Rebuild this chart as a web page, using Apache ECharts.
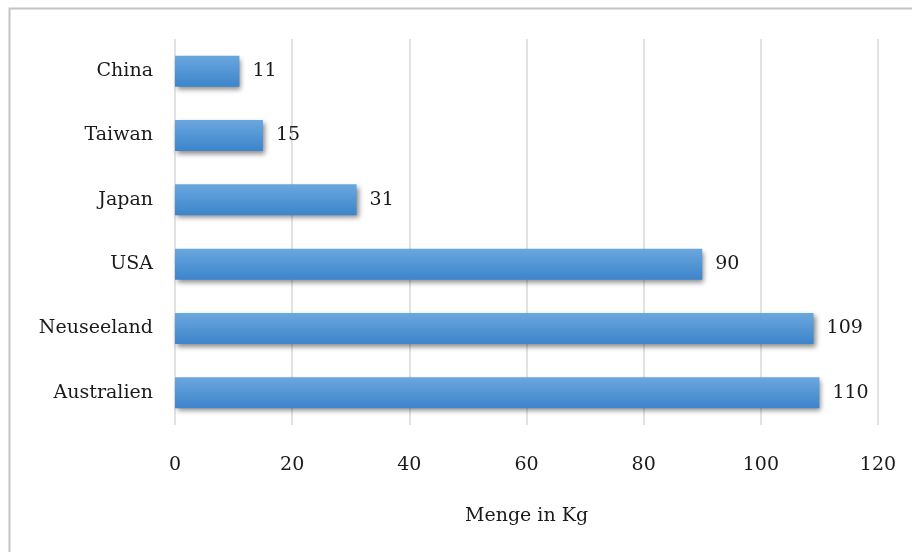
<!DOCTYPE html>
<html><head><meta charset="utf-8">
<script src="https://cdn.jsdelivr.net/npm/echarts@6/dist/echarts.min.js"></script>
<style>html,body{margin:0;padding:0;background:#fff}#c{width:912px;height:552px}</style>
</head><body><div id="c"></div>
<script>
const categories = ['Australien', 'Neuseeland', 'USA', 'Japan', 'Taiwan', 'China'];
const values = [110, 109, 90, 31, 15, 11];
const xTicks = [0, 20, 40, 60, 80, 100, 120];
const axisName = 'Menge in Kg';

const font = '"DejaVu Serif", "Liberation Serif", serif';
const chart = echarts.init(document.getElementById('c'));
chart.setOption({
  animation: false,
  textStyle: { fontFamily: font },
  graphic: [{
    type: 'rect', shape: { x: 9.5, y: 8.5, width: 1000, height: 1000 },
    style: { fill: 'none', stroke: '#c4c4c4', lineWidth: 2 }, silent: true
  }],
  grid: { left: 175, right: 34, top: 39, bottom: 127, containLabel: false },
  xAxis: {
    type: 'value', min: xTicks[0], max: xTicks[xTicks.length - 1], interval: 20,
    name: axisName, nameLocation: 'middle', nameGap: 82,
    nameTextStyle: { fontFamily: font, fontSize: 19, color: '#1a1a1a' },
    axisLine: { show: false }, axisTick: { show: false },
    axisLabel: { fontFamily: font, fontSize: 19, color: '#1a1a1a', margin: 31 },
    splitLine: { show: true, lineStyle: { color: '#d9d9d9', width: 1.5 } }
  },
  yAxis: {
    type: 'category', data: categories,
    axisLine: { show: false }, axisTick: { show: false },
    axisLabel: { fontFamily: font, fontSize: 19, color: '#1a1a1a', margin: 22 }
  },
  series: [{
    type: 'bar', data: values, barWidth: 31,
    itemStyle: {
      color: new echarts.graphic.LinearGradient(0, 0, 0, 1, [
        { offset: 0, color: '#6aa7de' },
        { offset: 1, color: '#3d84cb' }
      ]),
      shadowColor: 'rgba(0,0,0,0.45)', shadowBlur: 5, shadowOffsetX: 2, shadowOffsetY: 3
    },
    label: {
      show: true, position: 'right', distance: 13,
      fontFamily: font, fontSize: 19, color: '#1a1a1a'
    }
  }]
});
</script></body></html>
